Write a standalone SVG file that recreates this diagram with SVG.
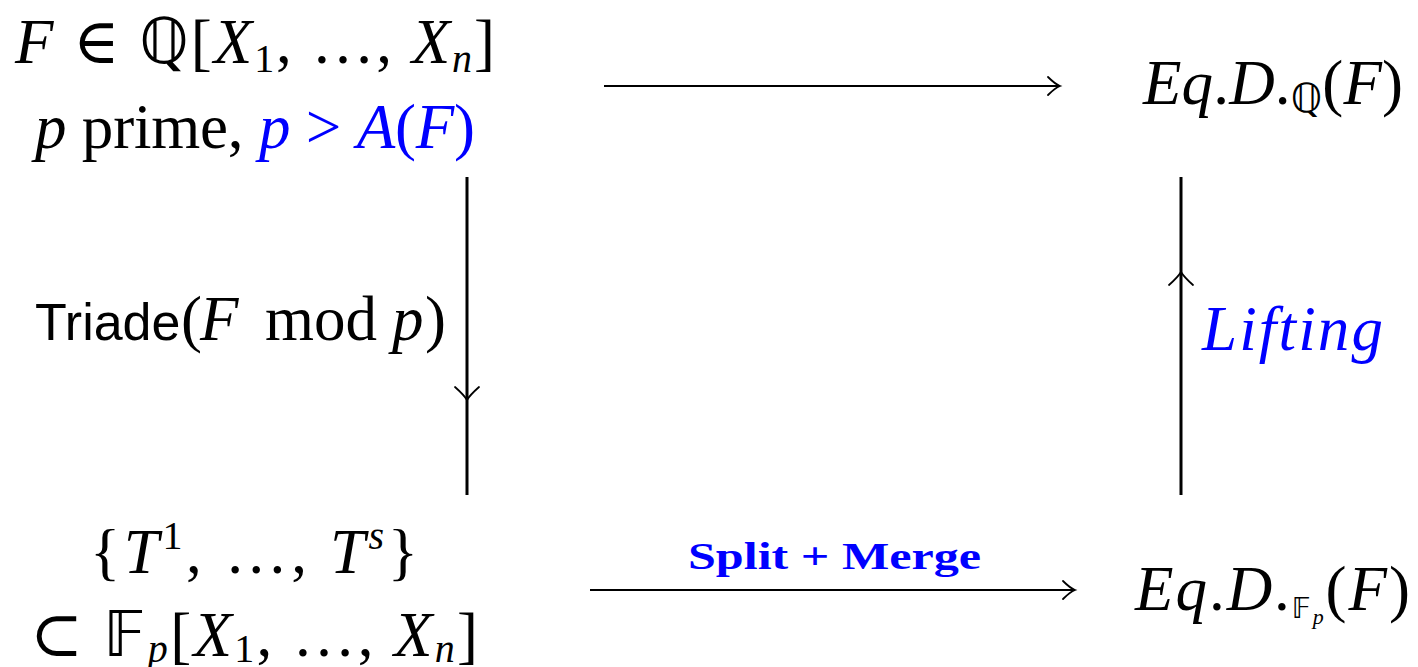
<svg xmlns="http://www.w3.org/2000/svg" width="1418" height="667" viewBox="0 0 1418 667">
<style>
text{font-family:"Liberation Serif","DejaVu Serif",serif;font-size:63px;fill:#000}
.i{font-style:italic}
.b{fill:#0000ff}
.s{font-family:"Liberation Sans","DejaVu Sans",sans-serif;font-size:52px}
.bb{font-family:"DejaVu Sans","Noto Sans",sans-serif;font-weight:normal}
.sub{font-size:40px}
.thin{stroke:#000;stroke-width:2;fill:none}
.thick{stroke:#000;stroke-width:3;fill:none}
.head{stroke:#000;stroke-width:1.8;fill:none;stroke-linecap:round}
</style>
<rect width="1418" height="667" fill="#fff"/>
<g id="connectors">
  <line class="thin" x1="604" y1="86" x2="1059" y2="86"/>
  <path class="head" d="M1048,77 Q1055,84 1060,86 Q1055,88 1048,95"/>
  <line class="thin" x1="590" y1="590" x2="1074" y2="590"/>
  <path class="head" d="M1063,581 Q1070,588 1075,590 Q1070,592 1063,599"/>
  <line class="thick" x1="467" y1="177" x2="467" y2="495"/>
  <path class="head" d="M455,387 Q464,395 467,400 Q470,395 479,387"/>
  <line class="thick" x1="1181" y1="177" x2="1181" y2="495"/>
  <path class="head" d="M1169,285 Q1178,277 1181,272 Q1184,277 1193,285"/>
  <text class="b" x="688" y="569" style="font-size:37px;font-weight:bold" textLength="293" lengthAdjust="spacingAndGlyphs">Split + Merge</text>
  <text class="i b" x="1202" y="350" textLength="181" lengthAdjust="spacing">Lifting</text>
</g>
<g id="node-source">
  <text x="15" y="63" textLength="480" lengthAdjust="spacing"><tspan class="i">F</tspan> ∈ <tspan class="bb">ℚ</tspan>[<tspan class="i">X</tspan><tspan class="sub" dy="9">1</tspan><tspan dy="-9">, …, </tspan><tspan class="i">X</tspan><tspan class="sub i" dy="9">n</tspan><tspan dy="-9">]</tspan></text>
  <text x="35" y="148" textLength="440" lengthAdjust="spacing"><tspan class="i">p</tspan> prime, <tspan class="i b">p</tspan><tspan class="b"> &gt; </tspan><tspan class="i b">A</tspan><tspan class="b">(</tspan><tspan class="i b">F</tspan><tspan class="b">)</tspan></text>
</g>
<g id="node-triade">
  <text y="340"><tspan class="s" x="35">Triade</tspan><tspan x="181">(</tspan><tspan class="i" x="200">F</tspan><tspan x="265">mod</tspan><tspan class="i" x="392">p</tspan><tspan x="425">)</tspan></text>
</g>
<g id="node-triangular">
  <text x="90" y="573" textLength="328" lengthAdjust="spacing">{<tspan class="i">T</tspan><tspan class="sub" dy="-24">1</tspan><tspan dy="24">, …, </tspan><tspan class="i">T</tspan><tspan class="sub i" dy="-24">s</tspan><tspan dy="24">}</tspan></text>
  <text x="30" y="656" textLength="448" lengthAdjust="spacing">⊂ <tspan class="bb">𝔽</tspan><tspan class="sub i" dy="6">p</tspan><tspan dy="-6">[</tspan><tspan class="i">X</tspan><tspan class="sub" dy="6">1</tspan><tspan dy="-6">, …, </tspan><tspan class="i">X</tspan><tspan class="sub i" dy="6">n</tspan><tspan dy="-6">]</tspan></text>
</g>
<g id="node-eqdq">
  <text x="1143" y="104" textLength="260" lengthAdjust="spacing"><tspan class="i">Eq</tspan>.<tspan class="i">D</tspan>.<tspan class="bb sub" dy="8">ℚ</tspan><tspan dy="-8">(</tspan><tspan class="i">F</tspan>)</text>
</g>
<g id="node-eqdfp">
  <text x="1135" y="610" textLength="275" lengthAdjust="spacing"><tspan class="i">Eq</tspan>.<tspan class="i">D</tspan>.<tspan class="bb" style="font-size:28px" dy="8">𝔽</tspan><tspan class="i" style="font-size:22px" dy="6">p</tspan><tspan dy="-14">(</tspan><tspan class="i">F</tspan>)</text>
</g>
</svg>
